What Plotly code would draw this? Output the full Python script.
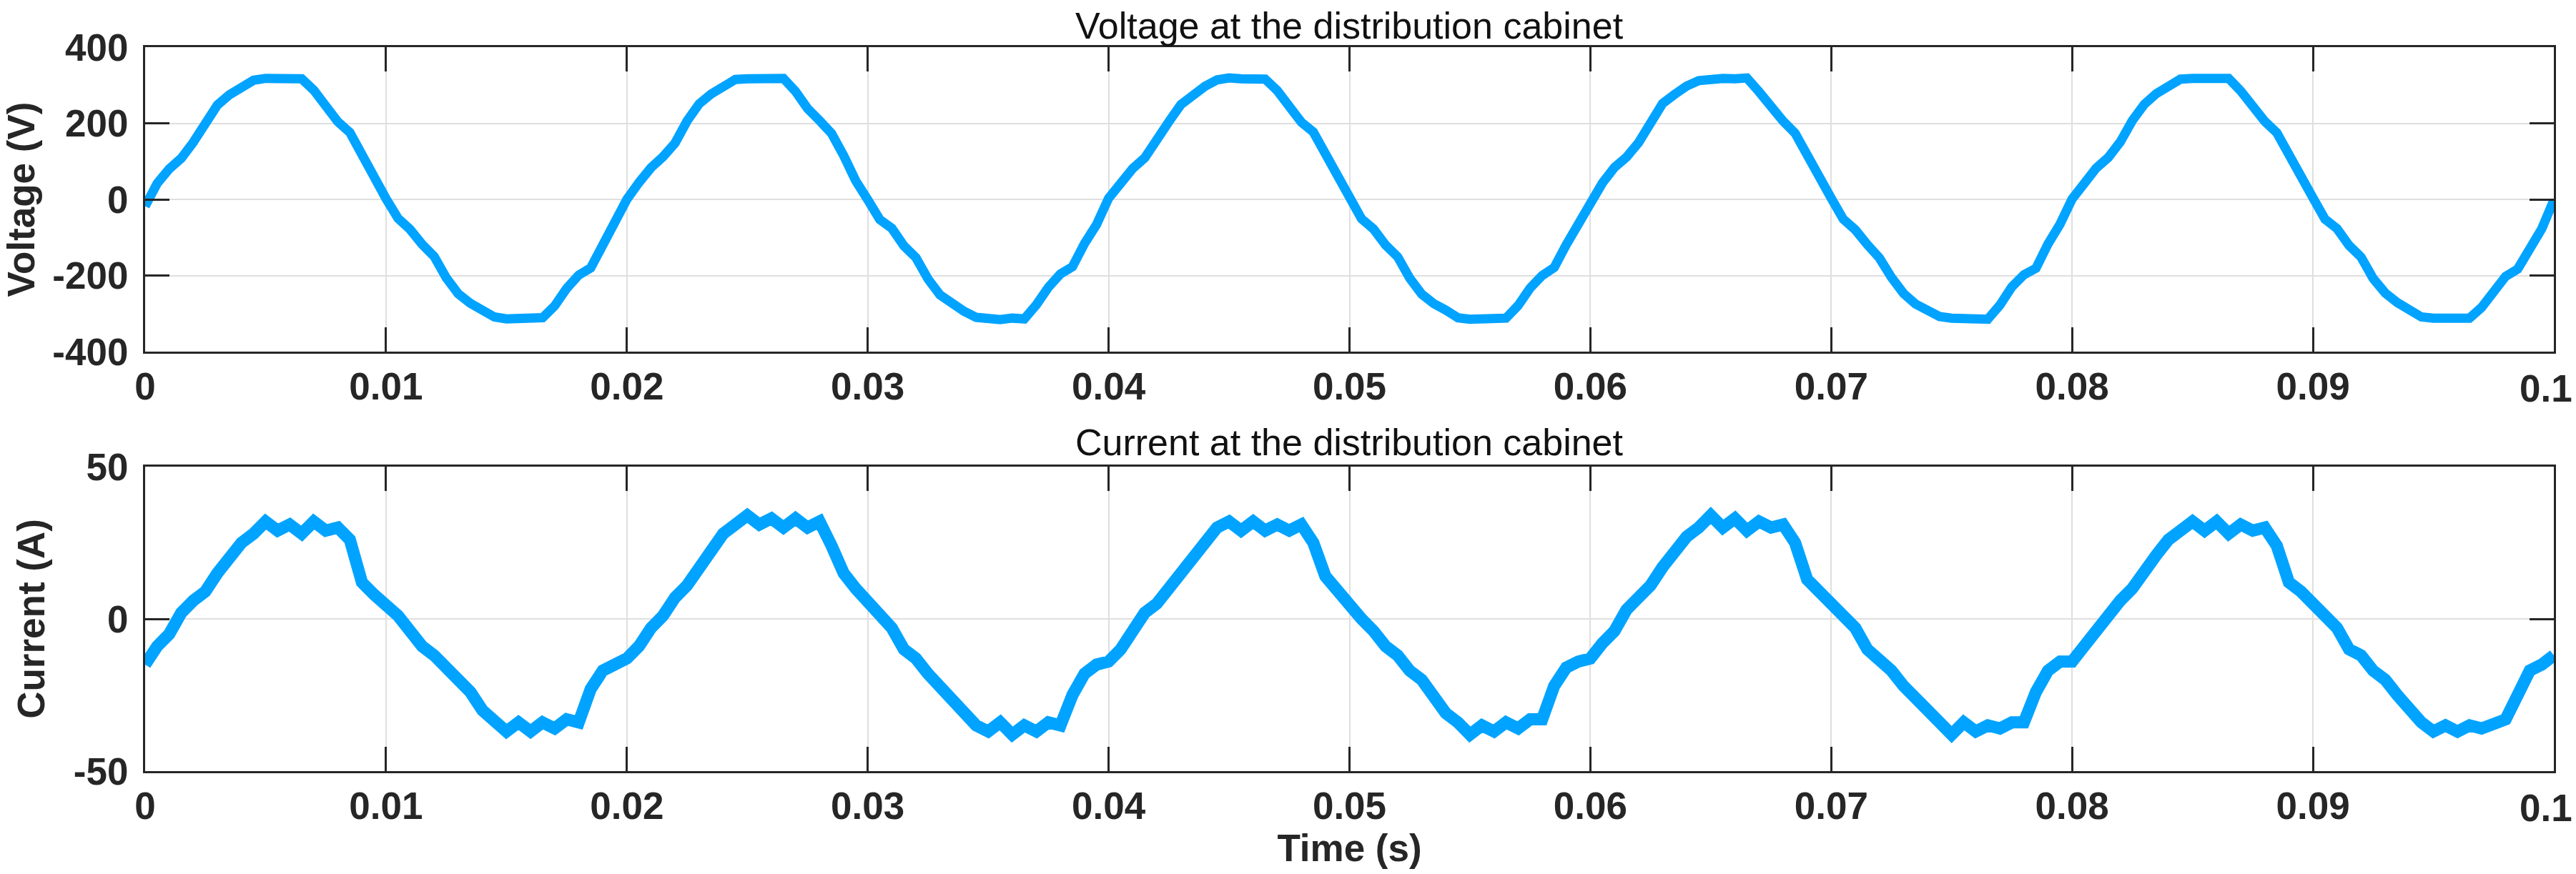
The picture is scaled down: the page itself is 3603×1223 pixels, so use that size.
import plotly.graph_objects as go
from plotly.subplots import make_subplots

# ---------------- data (0.5 ms sampling) ----------------
t_step_s = 0.0005
n_samples = 201

voltage_V = [
    # 0 - 19.5 ms
    -18, 42, 80, 108, 150, 203, 248, 275, 296, 313, 318, 316, 319, 317, 287, 242, 204, 176, 118, 52,
    2, -50, -79, -118, -150, -206, -248, -273, -292, -309, -314, -312, -315, -311, -280, -234, -199, -180, -120, -63,
    # 20 - 39.5 ms
    0, 44, 83, 112, 148, 206, 251, 277, 299, 315, 317, 319, 316, 318, 284, 239, 207, 173, 115, 49,
    -1, -53, -76, -122, -153, -209, -251, -276, -294, -310, -313, -316, -312, -314, -277, -231, -196, -177, -116, -66,
    # 40 - 59.5 ms
    3, 46, 81, 109, 152, 204, 249, 274, 297, 314, 319, 317, 318, 316, 286, 241, 203, 177, 119, 53,
    1, -51, -78, -120, -151, -207, -249, -274, -291, -311, -315, -313, -314, -312, -279, -233, -200, -179, -119, -64,
    # 60 - 79.5 ms
    -2, 43, 84, 111, 149, 205, 252, 276, 298, 312, 316, 318, 317, 319, 283, 240, 206, 174, 116, 51,
    3, -52, -80, -119, -154, -205, -247, -275, -293, -308, -312, -314, -313, -315, -278, -230, -198, -181, -117, -65,
    # 80 - 99.5 ms
    1, 45, 82, 110, 151, 207, 250, 278, 300, 316, 318, 317, 320, 318, 285, 243, 205, 175, 117, 50,
    4, -52, -77, -121, -152, -208, -246, -271, -290, -309, -312, -313, -315, -312, -284, -240, -202, -183, -126, -77,
    # 100 ms
    -2,
]

current_A = [
    # 0 - 19.5 ms
    -15, -9, -5, 2, 6, 9, 15, 20, 25, 28, 32, 29, 31, 28, 32, 29, 30, 26, 12, 8,
    5, 1, -4, -9, -12, -16, -21, -24, -30, -33, -37, -34, -37, -34, -36, -33, -34, -23, -17, -15,
    # 20 - 39.5 ms
    -13, -9, -3, 1, 7, 11, 17, 22, 28, 31, 34, 31, 33, 30, 33, 30, 32, 24, 15, 10,
    6, 2, -3, -10, -13, -18, -22, -26, -31, -35, -37, -34, -38, -35, -37, -34, -35, -25, -18, -15,
    # 40 - 59.5 ms
    -14, -10, -4, 2, 5, 10, 16, 21, 26, 30, 32, 29, 32, 29, 31, 29, 31, 25, 14, 9,
    4, 0, -4, -9, -12, -17, -20, -25, -31, -34, -38, -35, -37, -34, -36, -33, -33, -22, -16, -14,
    # 60 - 79.5 ms
    -13, -8, -4, 3, 7, 11, 17, 22, 27, 30, 34, 30, 33, 29, 32, 30, 31, 25, 13, 9,
    5, 1, -3, -10, -13, -17, -22, -26, -31, -35, -38, -34, -37, -35, -36, -34, -34, -24, -17, -14,
    # 80 - 99.5 ms
    -14, -9, -4, 2, 6, 10, 16, 21, 26, 29, 32, 29, 32, 28, 31, 29, 30, 24, 12, 9,
    5, 0, -3, -10, -12, -17, -20, -25, -30, -34, -37, -35, -37, -35, -36, -34, -33, -25, -17, -15,
    # 100 ms
    -12,
]

time_s = [round(i * t_step_s, 6) for i in range(n_samples)]

x_tick_vals = [0, 0.01, 0.02, 0.03, 0.04, 0.05, 0.06, 0.07, 0.08, 0.09, 0.1]
x_tick_text = ["0", "0.01", "0.02", "0.03", "0.04", "0.05", "0.06", "0.07", "0.08", "0.09", "0.1"]
v_tick_vals = [-400, -200, 0, 200, 400]
v_tick_text = ["-400", "-200", "0", "200", "400"]
i_tick_vals = [-50, 0, 50]
i_tick_text = ["-50", "0", "50"]

title_top = "Voltage at the distribution cabinet"
title_bottom = "Current at the distribution cabinet"

# ---------------- figure ----------------
W, H = 3603, 1223
L, R, T, B = 190, 31, 66, 144
plot_h = H - T - B
top_dom = [(1079 - 492) / plot_h, 1.0]
bot_dom = [0.0, (1079 - 653) / plot_h]

LINE_COLOR = "#00A3FF"
AX_COLOR = "#262626"
GRID_COLOR = "#dfdfdf"
FONT = "Liberation Sans, Arial, Helvetica, sans-serif"
TICK_SIZE = 53

fig = make_subplots(rows=2, cols=1)

fig.add_trace(go.Scatter(x=time_s, y=voltage_V, mode="lines",
                         line=dict(color=LINE_COLOR, width=13), showlegend=False),
              row=1, col=1)
fig.add_trace(go.Scatter(x=time_s, y=current_A, mode="lines",
                         line=dict(color=LINE_COLOR, width=17), showlegend=False),
              row=2, col=1)

tick_font = dict(family=FONT, size=TICK_SIZE, color=AX_COLOR, weight="bold")
common_axis = dict(
    showline=True, linecolor=AX_COLOR, linewidth=3, mirror="allticks",
    ticks="inside", ticklen=34, tickwidth=3, tickcolor=AX_COLOR,
    showgrid=True, gridcolor=GRID_COLOR, gridwidth=2, zeroline=False,
    tickfont=tick_font,
)

# the last label ("0.1") would overflow the page edge, so it is shifted inward
# as an annotation (like the reference does); the tick itself stays on the axis
x_tick_text_axis = x_tick_text[:-1] + [""]

fig.update_xaxes(range=[0, 0.1000001], tickvals=x_tick_vals, ticktext=x_tick_text_axis,
                 ticklabelstandoff=0, **common_axis)
fig.update_yaxes(ticklabelstandoff=10, **common_axis)

fig.update_yaxes(range=[-400, 400], tickvals=v_tick_vals, ticktext=v_tick_text, domain=top_dom,
                 title=dict(text="Voltage (V)", standoff=24,
                            font=dict(family=FONT, size=53, color=AX_COLOR, weight="bold")),
                 row=1, col=1)
fig.update_yaxes(range=[-50, 50], tickvals=i_tick_vals, ticktext=i_tick_text, domain=bot_dom,
                 title=dict(text="Current (A)", standoff=24,
                            font=dict(family=FONT, size=53, color=AX_COLOR, weight="bold")),
                 row=2, col=1)
fig.update_xaxes(title=dict(text="Time (s)", standoff=6,
                            font=dict(family=FONT, size=53, color=AX_COLOR, weight="bold")),
                 row=2, col=1)

for yref in ["y domain", "y2 domain"]:
    fig.add_annotation(text=x_tick_text[-1], x=1, y=0, xref="paper", yref=yref,
                       xanchor="right", yanchor="top", xshift=28, yshift=-20,
                       showarrow=False, font=tick_font)

fig.add_annotation(text=title_top, x=0.5, y=1, xref="x domain", yref="y domain",
                   xanchor="center", yanchor="bottom", yshift=-1, showarrow=False,
                   font=dict(family=FONT, size=52, color="#111111"))
fig.add_annotation(text=title_bottom, x=0.5, y=1, xref="x2 domain", yref="y2 domain",
                   xanchor="center", yanchor="bottom", yshift=3, showarrow=False,
                   font=dict(family=FONT, size=52, color="#111111"))

fig.update_layout(width=W, height=H, margin=dict(l=L, r=R, t=T, b=B, pad=0),
                  paper_bgcolor="white", plot_bgcolor="white",
                  font=dict(family=FONT, color=AX_COLOR))

fig.write_html("out.html", include_plotlyjs=True, full_html=True,
               config={"displayModeBar": False})
